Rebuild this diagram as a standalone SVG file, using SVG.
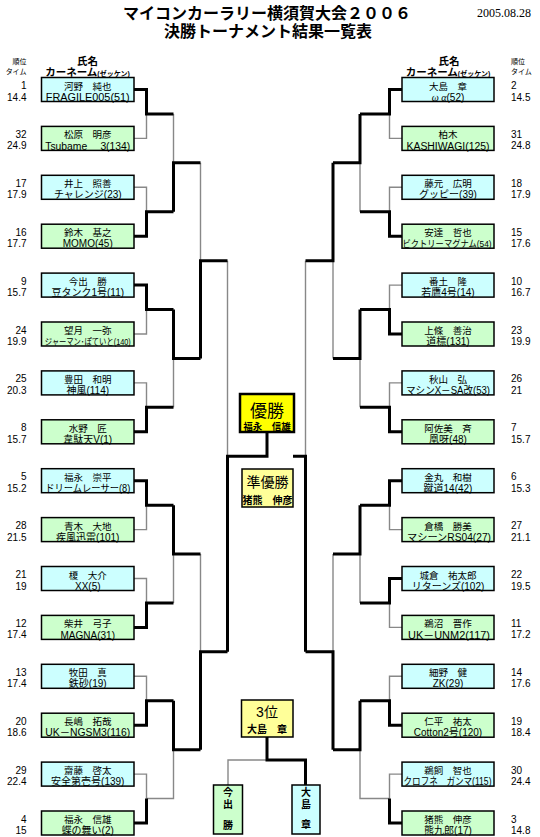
<svg xmlns="http://www.w3.org/2000/svg" width="540" height="837" viewBox="0 0 540 837">
<style>
text{font-family:"Liberation Sans","Noto Sans CJK JP",sans-serif;fill:#000}
.c{fill:#ccffff;stroke:#000;stroke-width:1.5}
.g{fill:#ccffcc;stroke:#000;stroke-width:1.5}
.nm{font-size:9.5px;text-anchor:middle}
.car{font-size:10px;text-anchor:middle}
.rl{font-size:10px;text-anchor:end}
.rr{font-size:10px;text-anchor:start}
.hd{font-size:10.5px;font-weight:bold;text-anchor:middle}
.sm{font-size:7px}
.tt{font-size:16px;font-weight:bold;text-anchor:middle}
.lose{fill:none;stroke:#888;stroke-width:1.4}
.win{fill:none;stroke:#000;stroke-width:3}
.pz{fill:#ffff99;stroke:#000;stroke-width:1.5}
.vt{font-size:10px;text-anchor:middle;font-weight:bold}
</style>
<g id="title">
<text class="tt" x="267" y="18.5">マイコンカーラリー横須賀大会２００６</text>
<text class="tt" x="268" y="37">決勝トーナメント結果一覧表</text>
<text x="531" y="17" style="font-family:'Liberation Serif',serif;font-size:12px;text-anchor:end">2005.08.28</text>
</g>
<g id="headers">
<text class="sm" x="26.5" y="64" text-anchor="end">順位</text>
<text class="sm" x="26.5" y="73.5" text-anchor="end">タイム</text>
<text class="hd" x="87.5" y="64.5">氏名</text>
<text class="hd" x="87.5" y="76">カーネーム<tspan style="font-size:7px">(ゼッケン)</tspan></text>
<text class="sm" x="511" y="64">順位</text>
<text class="sm" x="511" y="73.5">タイム</text>
<text class="hd" x="449" y="64.5">氏名</text>
<text class="hd" x="448" y="76">カーネーム<tspan style="font-size:7px">(ゼッケン)</tspan></text>
</g>
<g id="connectors">
<path class="lose" d="M134 138.4H146.5V113.95M134 187.3H146.5V211.75M134 334H146.5V309.55M134 382.9H146.5V407.35M134 529.6H146.5V505.15M134 578.5H146.5V602.95M134 676.3H146.5V700.75M134 774.1H146.5V798.55"/>
<path class="lose" d="M173.5 113.95V162.85M173.5 407.35V358.45M173.5 602.95V554.05M146.5 798.55H173.5V749.65M200.5 162.85V260.65M200.5 554.05V651.85M227.5 260.65V456.25"/>
<path class="lose" d="M402 138.4H389.5V113.95M402 187.3H389.5V211.75M402 285.1H389.5V309.55M402 382.9H389.5V407.35M402 529.6H389.5V505.15M402 627.4H389.5V602.95M402 676.3H389.5V700.75M402 774.1H389.5V798.55"/>
<path class="lose" d="M360 211.75V162.85M360 407.35V358.45M360 602.95V554.05M389.5 798.55H360V749.65M333 358.45V260.65M333 554.05V651.85M305.5 260.65V456.25"/>
<path class="lose" d="M267 760H228V785"/>
<path class="win" d="M134 89.5H146.5V113.95H173.5M134 236.2H146.5V211.75H173.5M134 285.1H146.5V309.55H173.5M134 431.8H146.5V407.35H173.5M134 480.7H146.5V505.15H173.5M134 627.4H146.5V602.95H173.5M134 725.2H146.5V700.75H173.5M134 823H146.5V798.55"/>
<path class="win" d="M173.5 211.75V162.85H200.5M173.5 309.55V358.45H200.5M173.5 505.15V554.05H200.5M173.5 700.75V749.65H200.5M200.5 358.45V260.65H227.5M200.5 749.65V651.85H227.5M227.5 651.85V456.25H267V432"/>
<path class="win" d="M402 89.5H389.5V113.95H360M402 236.2H389.5V211.75H360M402 334H389.5V309.55H360M402 431.8H389.5V407.35H360M402 480.7H389.5V505.15H360M402 578.5H389.5V602.95H360M402 725.2H389.5V700.75H360M402 823H389.5V798.55"/>
<path class="win" d="M360 113.95V162.85H333M360 309.55V358.45H333M360 505.15V554.05H333M360 700.75V749.65H333M333 162.85V260.65H305.5M333 749.65V651.85H305.5M305.5 651.85V456.25H293"/>
<path class="win" d="M267 737V760H305.5V785"/>
</g>
<g id="L01"><rect class="c" x="41.5" y="77.5" width="92.5" height="24"/><text class="nm" x="87.75" y="89.5">河野　純也</text><text class="car" x="87.75" y="100.6" textLength="84" lengthAdjust="spacingAndGlyphs">FRAGILE005(51)</text><text class="rl" x="26.5" y="89">1</text><text class="rl" x="26.5" y="100.5">14.4</text></g>
<g id="L02"><rect class="g" x="41.5" y="126.4" width="92.5" height="24"/><text class="nm" x="87.75" y="138.4">松原　明彦</text><text class="car" x="87.75" y="149.5" textLength="85" lengthAdjust="spacingAndGlyphs">Tsubame　 3(134)</text><text class="rl" x="26.5" y="137.9">32</text><text class="rl" x="26.5" y="149.4">24.9</text></g>
<g id="L03"><rect class="c" x="41.5" y="175.3" width="92.5" height="24"/><text class="nm" x="87.75" y="187.3">井上　照善</text><text class="car" x="87.75" y="198.4">チャレンジ(23)</text><text class="rl" x="26.5" y="186.8">17</text><text class="rl" x="26.5" y="198.3">17.9</text></g>
<g id="L04"><rect class="g" x="41.5" y="224.2" width="92.5" height="24"/><text class="nm" x="87.75" y="236.2">鈴木　基之</text><text class="car" x="87.75" y="247.3">MOMO(45)</text><text class="rl" x="26.5" y="235.7">16</text><text class="rl" x="26.5" y="247.2">17.7</text></g>
<g id="L05"><rect class="c" x="41.5" y="273.1" width="92.5" height="24"/><text class="nm" x="87.75" y="285.1">今出　勝</text><text class="car" x="87.75" y="296.2">豆タンク1号(11)</text><text class="rl" x="26.5" y="284.6">9</text><text class="rl" x="26.5" y="296.1">15.7</text></g>
<g id="L06"><rect class="g" x="41.5" y="322" width="92.5" height="24"/><text class="nm" x="87.75" y="334">望月　一弥</text><text class="car" x="87.75" y="345.1" style="font-size:9px" textLength="86" lengthAdjust="spacingAndGlyphs">ジャーマン･ぽていと(140)</text><text class="rl" x="26.5" y="333.5">24</text><text class="rl" x="26.5" y="345">19.9</text></g>
<g id="L07"><rect class="c" x="41.5" y="370.9" width="92.5" height="24"/><text class="nm" x="87.75" y="382.9">豊田　和明</text><text class="car" x="87.75" y="394">神風(114)</text><text class="rl" x="26.5" y="382.4">25</text><text class="rl" x="26.5" y="393.9">20.3</text></g>
<g id="L08"><rect class="g" x="41.5" y="419.8" width="92.5" height="24"/><text class="nm" x="87.75" y="431.8">水野　匠</text><text class="car" x="87.75" y="442.9">韋駄天V(1)</text><text class="rl" x="26.5" y="431.3">8</text><text class="rl" x="26.5" y="442.8">15.7</text></g>
<g id="L09"><rect class="c" x="41.5" y="468.7" width="92.5" height="24"/><text class="nm" x="87.75" y="480.7">福永　崇平</text><text class="car" x="87.75" y="491.8" textLength="85" lengthAdjust="spacingAndGlyphs">ドリームレーサー(8)</text><text class="rl" x="26.5" y="480.2">5</text><text class="rl" x="26.5" y="491.7">15.2</text></g>
<g id="L10"><rect class="g" x="41.5" y="517.6" width="92.5" height="24"/><text class="nm" x="87.75" y="529.6">青木　大地</text><text class="car" x="87.75" y="540.7">疾風迅雷(101)</text><text class="rl" x="26.5" y="529.1">28</text><text class="rl" x="26.5" y="540.6">21.5</text></g>
<g id="L11"><rect class="c" x="41.5" y="566.5" width="92.5" height="24"/><text class="nm" x="87.75" y="578.5">榎　大介</text><text class="car" x="87.75" y="589.6">XX(5)</text><text class="rl" x="26.5" y="578">21</text><text class="rl" x="26.5" y="589.5">19</text></g>
<g id="L12"><rect class="g" x="41.5" y="615.4" width="92.5" height="24"/><text class="nm" x="87.75" y="627.4">柴井　弓子</text><text class="car" x="87.75" y="638.5">MAGNA(31)</text><text class="rl" x="26.5" y="626.9">12</text><text class="rl" x="26.5" y="638.4">17.4</text></g>
<g id="L13"><rect class="c" x="41.5" y="664.3" width="92.5" height="24"/><text class="nm" x="87.75" y="676.3">牧田　真</text><text class="car" x="87.75" y="687.4">鉄砂(19)</text><text class="rl" x="26.5" y="675.8">13</text><text class="rl" x="26.5" y="687.3">17.4</text></g>
<g id="L14"><rect class="g" x="41.5" y="713.2" width="92.5" height="24"/><text class="nm" x="87.75" y="725.2">長嶋　拓哉</text><text class="car" x="87.75" y="736.3" textLength="85" lengthAdjust="spacingAndGlyphs">UK－NGSM3(116)</text><text class="rl" x="26.5" y="724.7">20</text><text class="rl" x="26.5" y="736.2">18.6</text></g>
<g id="L15"><rect class="c" x="41.5" y="762.1" width="92.5" height="24"/><text class="nm" x="87.75" y="774.1">齋藤　啓太</text><text class="car" x="87.75" y="785.2">安全第壱号(139)</text><text class="rl" x="26.5" y="773.6">29</text><text class="rl" x="26.5" y="785.1">22.4</text></g>
<g id="L16"><rect class="g" x="41.5" y="811" width="92.5" height="24"/><text class="nm" x="87.75" y="823">福永　信雄</text><text class="car" x="87.75" y="834.1">蝶の舞い(2)</text><text class="rl" x="26.5" y="822.5">4</text><text class="rl" x="26.5" y="834">15</text></g>
<g id="R01"><rect class="c" x="402" y="77.5" width="92" height="24"/><text class="nm" x="448" y="89.5">大島　章</text><text class="car" x="448" y="100.6"><tspan font-style="italic" font-family="Liberation Serif, serif">ω α</tspan>(52)</text><text class="rr" x="511" y="89">2</text><text class="rr" x="511" y="100.5">14.5</text></g>
<g id="R02"><rect class="g" x="402" y="126.4" width="92" height="24"/><text class="nm" x="448" y="138.4">柏木</text><text class="car" x="448" y="149.5" textLength="83" lengthAdjust="spacingAndGlyphs">KASHIWAGI(125)</text><text class="rr" x="511" y="137.9">31</text><text class="rr" x="511" y="149.4">24.8</text></g>
<g id="R03"><rect class="c" x="402" y="175.3" width="92" height="24"/><text class="nm" x="448" y="187.3">藤元　広明</text><text class="car" x="448" y="198.4">グッピー(39)</text><text class="rr" x="511" y="186.8">18</text><text class="rr" x="511" y="198.3">17.9</text></g>
<g id="R04"><rect class="g" x="402" y="224.2" width="92" height="24"/><text class="nm" x="448" y="236.2">安達　哲也</text><text class="car" x="447" y="247.3" style="font-size:9.5px" textLength="89" lengthAdjust="spacingAndGlyphs">ビクトリーマグナム(54)</text><text class="rr" x="511" y="235.7">15</text><text class="rr" x="511" y="247.2">17.6</text></g>
<g id="R05"><rect class="c" x="402" y="273.1" width="92" height="24"/><text class="nm" x="448" y="285.1">番土　隆</text><text class="car" x="448" y="296.2">若鷹4号(14)</text><text class="rr" x="511" y="284.6">10</text><text class="rr" x="511" y="296.1">16.7</text></g>
<g id="R06"><rect class="g" x="402" y="322" width="92" height="24"/><text class="nm" x="448" y="334">上條　善治</text><text class="car" x="448" y="345.1">道標(131)</text><text class="rr" x="511" y="333.5">23</text><text class="rr" x="511" y="345">19.9</text></g>
<g id="R07"><rect class="c" x="402" y="370.9" width="92" height="24"/><text class="nm" x="448" y="382.9">秋山　弘</text><text class="car" x="448" y="394" textLength="84" lengthAdjust="spacingAndGlyphs">マシンX－SA改(53)</text><text class="rr" x="511" y="382.4">26</text><text class="rr" x="511" y="393.9">21</text></g>
<g id="R08"><rect class="g" x="402" y="419.8" width="92" height="24"/><text class="nm" x="448" y="431.8">阿佐美　斉</text><text class="car" x="448" y="442.9">凰呀(48)</text><text class="rr" x="511" y="431.3">7</text><text class="rr" x="511" y="442.8">15.7</text></g>
<g id="R09"><rect class="c" x="402" y="468.7" width="92" height="24"/><text class="nm" x="448" y="480.7">金丸　和樹</text><text class="car" x="448" y="491.8">蹴道14(42)</text><text class="rr" x="511" y="480.2">6</text><text class="rr" x="511" y="491.7">15.3</text></g>
<g id="R10"><rect class="g" x="402" y="517.6" width="92" height="24"/><text class="nm" x="448" y="529.6">倉橋　勝美</text><text class="car" x="449" y="540.7" textLength="84" lengthAdjust="spacingAndGlyphs">マシーンRS04(27)</text><text class="rr" x="511" y="529.1">27</text><text class="rr" x="511" y="540.6">21.1</text></g>
<g id="R11"><rect class="c" x="402" y="566.5" width="92" height="24"/><text class="nm" x="448" y="578.5">城倉　祐太郎</text><text class="car" x="448" y="589.6">リターンズ(102)</text><text class="rr" x="511" y="578">22</text><text class="rr" x="511" y="589.5">19.5</text></g>
<g id="R12"><rect class="g" x="402" y="615.4" width="92" height="24"/><text class="nm" x="448" y="627.4">鵜沼　晋作</text><text class="car" x="449" y="638.5" textLength="82" lengthAdjust="spacingAndGlyphs">UK－UNM2(117)</text><text class="rr" x="511" y="626.9">11</text><text class="rr" x="511" y="638.4">17.2</text></g>
<g id="R13"><rect class="c" x="402" y="664.3" width="92" height="24"/><text class="nm" x="448" y="676.3">細野　健</text><text class="car" x="448" y="687.4">ZK(29)</text><text class="rr" x="511" y="675.8">14</text><text class="rr" x="511" y="687.3">17.6</text></g>
<g id="R14"><rect class="g" x="402" y="713.2" width="92" height="24"/><text class="nm" x="448" y="725.2">仁平　祐太</text><text class="car" x="448" y="736.3">Cotton2号(120)</text><text class="rr" x="511" y="724.7">19</text><text class="rr" x="511" y="736.2">18.4</text></g>
<g id="R15"><rect class="c" x="402" y="762.1" width="92" height="24"/><text class="nm" x="448" y="774.1">鵜飼　智也</text><text class="car" x="447.5" y="785.2" textLength="88" lengthAdjust="spacingAndGlyphs">クロフネ　ガンマ(115)</text><text class="rr" x="511" y="773.6">30</text><text class="rr" x="511" y="785.1">24.4</text></g>
<g id="R16"><rect class="g" x="402" y="811" width="92" height="24"/><text class="nm" x="448" y="823">猪熊　伸彦</text><text class="car" x="448" y="834.1">熊九郎(17)</text><text class="rr" x="511" y="822.5">3</text><text class="rr" x="511" y="834">14.8</text></g>
<g id="champion"><rect x="240" y="394" width="54" height="38" fill="#ffff00" stroke="#000" stroke-width="2.5"/><text x="267" y="416.5" style="font-size:17px;text-anchor:middle">優勝</text><text x="267" y="429.5" style="font-size:9.5px;font-weight:bold;text-anchor:middle">福永　信雄</text></g>
<g id="runnerup"><rect class="pz" x="242" y="469" width="51" height="38"/><text x="267.5" y="487" style="font-size:14px;text-anchor:middle">準優勝</text><text x="267.5" y="503.5" style="font-size:10px;font-weight:bold;text-anchor:middle">猪熊　伸彦</text></g>
<g id="third"><rect class="pz" x="241.5" y="700" width="51.5" height="37"/><text x="267" y="717" style="font-size:14px;text-anchor:middle">3位</text><text x="267" y="733" style="font-size:10px;font-weight:bold;text-anchor:middle">大島　章</text></g>
<g id="third-imade"><rect class="g" x="213.5" y="785" width="29" height="49"/><text class="vt" x="228" y="796">今</text><text class="vt" x="228" y="808">出</text><text class="vt" x="228" y="829">勝</text></g>
<g id="third-oshima"><rect class="c" x="292" y="785" width="28" height="49"/><text class="vt" x="306" y="796">大</text><text class="vt" x="306" y="808">島</text><text class="vt" x="306" y="828">章</text></g>
</svg>
